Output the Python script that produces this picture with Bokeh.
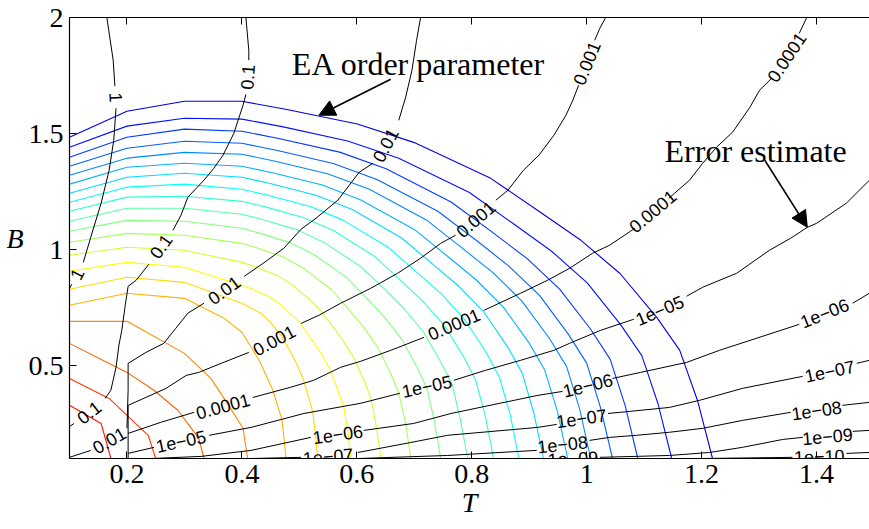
from bokeh.plotting import figure
from bokeh.models import LinearAxis, FixedTicker, Arrow, NormalHead, Range1d, ColumnDataSource
from bokeh.core.properties import value
from bokeh.embed import file_html
from bokeh.resources import INLINE

# ---------------- data ----------------
x_ticks = [0.2, 0.4, 0.6, 0.8, 1.0, 1.2, 1.4]
x_tick_labels = ["0.2", "0.4", "0.6", "0.8", "1", "1.2", "1.4"]
y_ticks = [0.5, 1.0, 1.5, 2.0]
y_tick_labels = ["0.5", "1", "1.5", "2"]

# EA order parameter contours (inner -> outer), T and B coordinates
ea_T = [
    [0.1, 0.155, 0.172],
    [0.1, 0.169, 0.2, 0.237, 0.25],
    [0.1, 0.2, 0.247, 0.289, 0.325, 0.334],
    [0.1, 0.2, 0.3, 0.346, 0.377, 0.402, 0.410],
    [0.1, 0.2, 0.3, 0.369, 0.4, 0.430, 0.454, 0.470, 0.477],
    [0.1, 0.2, 0.3, 0.4, 0.412, 0.433, 0.448, 0.470, 0.484, 0.495, 0.506, 0.516, 0.523, 0.528, 0.532],
    [0.1, 0.2, 0.3, 0.4, 0.418, 0.447, 0.469, 0.501, 0.521, 0.537, 0.553, 0.567, 0.577, 0.584, 0.590],
    [0.1, 0.2, 0.3, 0.4, 0.423, 0.460, 0.488, 0.528, 0.554, 0.574, 0.594, 0.613, 0.625, 0.634, 0.642],
    [0.1, 0.2, 0.3, 0.4, 0.427, 0.472, 0.507, 0.556, 0.587, 0.612, 0.636, 0.659, 0.673, 0.685, 0.694],
    [0.1, 0.2, 0.3, 0.4, 0.432, 0.485, 0.526, 0.583, 0.620, 0.649, 0.678, 0.705, 0.722, 0.735, 0.746],
    [0.1, 0.2, 0.3, 0.4, 0.437, 0.497, 0.543, 0.608, 0.650, 0.683, 0.716, 0.746, 0.766, 0.780, 0.793],
    [0.1, 0.2, 0.3, 0.4, 0.441, 0.508, 0.560, 0.632, 0.678, 0.715, 0.752, 0.786, 0.807, 0.824, 0.838],
    [0.1, 0.2, 0.3, 0.4, 0.445, 0.519, 0.576, 0.655, 0.706, 0.747, 0.787, 0.825, 0.848, 0.867, 0.882],
    [0.1, 0.2, 0.3, 0.4, 0.449, 0.529, 0.592, 0.678, 0.733, 0.778, 0.822, 0.863, 0.888, 0.908, 0.925],
    [0.1, 0.2, 0.3, 0.4, 0.453, 0.540, 0.607, 0.700, 0.760, 0.808, 0.855, 0.900, 0.927, 0.949, 0.967],
    [0.1, 0.2, 0.3, 0.4, 0.456, 0.549, 0.622, 0.721, 0.785, 0.837, 0.887, 0.935, 0.965, 0.988, 1.007],
    [0.1, 0.2, 0.3, 0.4, 0.460, 0.559, 0.635, 0.741, 0.810, 0.864, 0.918, 0.968, 1.000, 1.024, 1.045],
    [0.1, 0.2, 0.3, 0.4, 0.464, 0.570, 0.651, 0.764, 0.838, 0.896, 0.953, 1.007, 1.041, 1.067, 1.089],
    [0.1, 0.2, 0.3, 0.4, 0.470, 0.584, 0.673, 0.796, 0.875, 0.939, 1.001, 1.059, 1.096, 1.124, 1.148],
    [0.1, 0.2, 0.3, 0.4, 0.476, 0.601, 0.699, 0.833, 0.920, 0.990, 1.058, 1.122, 1.162, 1.193, 1.219],
]
ea_B = [
    [0.329, 0.251, 0.1],
    [0.445, 0.359, 0.286, 0.200, 0.1],
    [0.596, 0.471, 0.394, 0.307, 0.187, 0.1],
    [0.691, 0.691, 0.553, 0.445, 0.329, 0.230, 0.1],
    [0.760, 0.812, 0.790, 0.704, 0.644, 0.523, 0.394, 0.264, 0.1],
    [0.829, 0.881, 0.859, 0.769, 0.754, 0.726, 0.692, 0.624, 0.561, 0.509, 0.447, 0.364, 0.303, 0.208, 0.1],
    [0.907, 0.945, 0.924, 0.846, 0.830, 0.798, 0.760, 0.685, 0.614, 0.556, 0.486, 0.395, 0.326, 0.221, 0.1],
    [0.976, 1.010, 0.997, 0.945, 0.926, 0.891, 0.848, 0.762, 0.682, 0.616, 0.538, 0.434, 0.356, 0.237, 0.1],
    [1.032, 1.070, 1.062, 1.027, 1.007, 0.968, 0.920, 0.827, 0.739, 0.666, 0.580, 0.466, 0.381, 0.250, 0.1],
    [1.079, 1.126, 1.122, 1.092, 1.070, 1.029, 0.978, 0.878, 0.783, 0.706, 0.614, 0.492, 0.401, 0.261, 0.1],
    [1.122, 1.178, 1.178, 1.152, 1.129, 1.085, 1.031, 0.925, 0.825, 0.743, 0.645, 0.516, 0.419, 0.270, 0.1],
    [1.165, 1.226, 1.230, 1.208, 1.184, 1.137, 1.081, 0.969, 0.863, 0.777, 0.674, 0.538, 0.436, 0.279, 0.1],
    [1.204, 1.269, 1.282, 1.260, 1.234, 1.186, 1.127, 1.009, 0.899, 0.809, 0.701, 0.558, 0.451, 0.288, 0.1],
    [1.243, 1.312, 1.329, 1.312, 1.285, 1.234, 1.173, 1.050, 0.935, 0.841, 0.728, 0.579, 0.467, 0.296, 0.1],
    [1.282, 1.355, 1.372, 1.359, 1.331, 1.278, 1.214, 1.087, 0.967, 0.869, 0.752, 0.597, 0.481, 0.304, 0.1],
    [1.320, 1.394, 1.419, 1.411, 1.382, 1.327, 1.260, 1.128, 1.003, 0.901, 0.779, 0.618, 0.497, 0.312, 0.1],
    [1.359, 1.437, 1.467, 1.458, 1.428, 1.371, 1.302, 1.165, 1.036, 0.930, 0.803, 0.636, 0.511, 0.320, 0.1],
    [1.398, 1.484, 1.519, 1.510, 1.479, 1.420, 1.348, 1.205, 1.071, 0.962, 0.830, 0.657, 0.527, 0.328, 0.1],
    [1.441, 1.532, 1.566, 1.562, 1.530, 1.468, 1.394, 1.246, 1.107, 0.993, 0.857, 0.677, 0.543, 0.337, 0.1],
    [1.484, 1.596, 1.639, 1.639, 1.605, 1.541, 1.462, 1.307, 1.160, 1.040, 0.897, 0.708, 0.566, 0.349, 0.1],
]

# Error-estimate contours, split into pieces around their labels
err_T = [
    # 1
    [0.165, 0.176, 0.179], [0.181, 0.177, 0.169, 0.155, 0.137, 0.124], [0.104, 0.1],
    # 0.1
    [0.407, 0.412, 0.412], [0.407, 0.402, 0.386, 0.367, 0.351, 0.334, 0.306, 0.294, 0.280],
    [0.238, 0.216, 0.202, 0.197, 0.191, 0.186, 0.181, 0.172, 0.162], [0.108, 0.1],
    # 0.01
    [0.711, 0.704, 0.696, 0.685, 0.673], [0.628, 0.604, 0.567, 0.529, 0.503, 0.473, 0.437, 0.404],
    [0.334, 0.306, 0.285, 0.264, 0.233, 0.202, 0.202, 0.200], [0.137, 0.1],
    # 0.001
    [1.033, 1.023, 1.014], [0.986, 0.976, 0.964, 0.943, 0.917, 0.890, 0.863, 0.842],
    [0.772, 0.746, 0.711, 0.671, 0.624, 0.572, 0.534, 0.503], [0.412, 0.364, 0.325, 0.303, 0.268, 0.202, 0.202],
    # 0.0001
    [1.383, 1.370], [1.322, 1.301, 1.284, 1.254, 1.226, 1.202, 1.179, 1.153, 1.143],
    [1.084, 1.040, 1.010, 0.970, 0.932, 0.885, 0.821], [0.717, 0.659, 0.607, 0.572, 0.525, 0.485, 0.419],
    [0.317, 0.259, 0.202],
    # 1e-05
    [1.492, 1.452, 1.400, 1.384, 1.355, 1.318, 1.261, 1.202, 1.174], [1.082, 1.024, 0.970, 0.943, 0.885, 0.824, 0.769],
    [0.675, 0.607, 0.508, 0.416, 0.343], [0.247, 0.202],
    # 1e-06
    [1.492, 1.463], [1.370, 1.231, 1.174, 1.094, 1.045], [0.958, 0.915, 0.764, 0.699, 0.612],
    [0.520, 0.416, 0.329, 0.242],
    # 1e-07
    [1.492, 1.470], [1.376, 1.271, 1.197, 1.144, 1.075, 1.037], [0.948, 0.915, 0.758, 0.694, 0.602], [0.503, 0.416],
    # 1e-08
    [1.492, 1.445], [1.355, 1.271, 1.202, 1.144, 1.087, 1.040, 1.005], [0.913, 0.758, 0.602],
    # 1e-09
    [1.492, 1.463], [1.376, 1.341, 1.271, 1.214, 1.144, 1.023],
    # 1e-10
    [1.492, 1.452], [1.358, 1.202],
]
err_B = [
    [2.0, 1.816, 1.704], [1.609, 1.471, 1.342, 1.200, 1.053, 0.945], [0.851, 0.833],
    [2.0, 1.859, 1.816], [1.669, 1.622, 1.501, 1.406, 1.350, 1.299, 1.226, 1.148, 1.083],
    [0.937, 0.868, 0.842, 0.760, 0.652, 0.588, 0.493, 0.394, 0.359], [0.251, 0.238],
    [2.0, 1.902, 1.773, 1.657, 1.557], [1.372, 1.333, 1.213, 1.135, 1.088, 1.006, 0.941, 0.885],
    [0.769, 0.726, 0.661, 0.596, 0.557, 0.510, 0.394, 0.230], [0.135, 0.105],
    [2.0, 1.954, 1.902], [1.708, 1.644, 1.579, 1.493, 1.407, 1.342, 1.256, 1.213],
    [1.062, 1.027, 0.963, 0.898, 0.833, 0.769, 0.717, 0.682], [0.557, 0.510, 0.471, 0.458, 0.402, 0.329, 0.1],
    [2.0, 1.932], [1.738, 1.687, 1.613, 1.506, 1.441, 1.372, 1.299, 1.243, 1.221],
    [1.092, 1.019, 0.984, 0.919, 0.868, 0.812, 0.738], [0.622, 0.566, 0.519, 0.493, 0.437, 0.407, 0.363],
    [0.299, 0.256, 0.208],
    [1.299, 1.200, 1.113, 1.096, 1.049, 0.997, 0.898, 0.838, 0.799], [0.700, 0.652, 0.596, 0.566, 0.523, 0.480, 0.437],
    [0.381, 0.338, 0.294, 0.234, 0.200], [0.148, 0.122],
    [0.812, 0.769], [0.678, 0.566, 0.514, 0.471, 0.445], [0.389, 0.372, 0.294, 0.251, 0.221],
    [0.191, 0.135, 0.109, 0.1],
    [0.523, 0.510], [0.454, 0.402, 0.351, 0.320, 0.303, 0.294], [0.247, 0.234, 0.200, 0.169, 0.126], [0.105, 0.1],
    [0.342, 0.329], [0.299, 0.264, 0.230, 0.213, 0.200, 0.191, 0.178], [0.135, 0.113, 0.1],
    [0.221, 0.217], [0.191, 0.182, 0.148, 0.126, 0.113, 0.105],
    [0.126, 0.122], [0.105, 0.1],
]

# contour labels
lab_text = ["1", "1", "0.1", "0.1", "0.1", "0.01", "0.01", "0.01",
            "0.001", "0.001", "0.001", "0.0001", "0.0001", "0.0001", "0.0001",
            "1e\u221205", "1e\u221205", "1e\u221205", "1e\u221206", "1e\u221206", "1e\u221206",
            "1e\u221207", "1e\u221207", "1e\u221207", "1e\u221208", "1e\u221208",
            "1e\u221209", "1e\u221209", "1e\u221210"]
lab_T = [0.181, 0.113, 0.410, 0.259, 0.134, 0.650, 0.369, 0.169,
         1.000, 0.807, 0.456, 1.348, 1.115, 0.769, 0.367,
         1.127, 0.722, 0.294, 1.414, 1.002, 0.567,
         1.423, 0.991, 0.550, 1.400, 0.958,
         1.419, 0.976, 1.405]
lab_B = [1.656, 0.894, 1.743, 1.014, 0.299, 1.450, 0.825, 0.178,
         1.803, 1.131, 0.609, 1.829, 1.165, 0.678, 0.325,
         0.738, 0.411, 0.174, 0.726, 0.415, 0.204,
         0.476, 0.273, 0.109, 0.307, 0.161,
         0.195, 0.100, 0.109]
lab_angle = [-87, 63, 86, 55, 38, 62, 36, 30,
             68, 41, 28, 56, 40, 23, 15,
             23, 12, 12, 22, 14, 8,
             12, 8, 5, 8, 6,
             5, 3, 2]

# annotations
note_text = ["EA order parameter", "Error estimate"]
note_T = [0.708, 1.294]
note_B = [1.799, 1.424]
arrow_T0 = [0.659, 1.310]
arrow_B0 = [1.734, 1.385]
arrow_T1 = [0.534, 1.384]
arrow_B1 = [1.579, 1.096]

# ---------------- styles ----------------
def jet(v):
    def c(x):
        return int(round(255 * min(max(x, 0.0), 1.0)))
    r = c(1.5 - abs(4 * v - 3))
    g = c(1.5 - abs(4 * v - 2))
    b = c(1.5 - abs(4 * v - 1))
    return "#%02x%02x%02x" % (r, g, b)

n = len(ea_T)
ea_colors = [jet(0.86 - i * (0.76 / (n - 1))) for i in range(n)]

SERIF = "Liberation Serif"
SANS = "Liberation Sans"

p = figure(width=869, height=529, output_backend="svg", toolbar_location=None,
           x_range=Range1d(0.1, 1.4922), y_range=Range1d(0.1, 2.0),
           min_border_left=69, min_border_right=0, min_border_top=17, min_border_bottom=71)
p.outline_line_color = None
p.grid.visible = False
p.background_fill_color = "white"
p.border_fill_color = "white"

def style_axis(ax, ticks, labels, show_labels=True):
    ax.ticker = FixedTicker(ticks=ticks)
    ax.major_label_overrides = {t: l for t, l in zip(ticks, labels)}
    ax.major_tick_in = 7
    ax.major_tick_out = 0
    ax.minor_tick_in = 0
    ax.minor_tick_out = 0
    ax.axis_line_color = "black"
    ax.axis_line_width = 1.2
    ax.major_tick_line_color = "black"
    ax.major_tick_line_width = 1
    ax.major_label_text_font = SERIF
    ax.major_label_text_color = "black"
    ax.major_label_standoff = 6
    ax.major_label_text_font_size = "28px" if show_labels else "0px"

xa = p.xaxis[0]
style_axis(xa, x_ticks, x_tick_labels)
xa.axis_label = "T"
xa.axis_label_text_font = SERIF
xa.axis_label_text_font_style = "italic"
xa.axis_label_text_font_size = "28px"
xa.axis_label_text_color = "black"
xa.axis_label_standoff = 1

ya = p.yaxis[0]
style_axis(ya, y_ticks, y_tick_labels)
ya.axis_label = "B"
ya.axis_label_text_font = SERIF
ya.axis_label_text_font_style = "italic"
ya.axis_label_text_font_size = "28px"
ya.axis_label_text_color = "black"
ya.axis_label_orientation = "horizontal"
ya.axis_label_standoff = 2

top = LinearAxis()
style_axis(top, x_ticks, ["" for _ in x_ticks], show_labels=False)
p.add_layout(top, "above")

# EA order parameter contours
p.multi_line(xs="xs", ys="ys", line_color="color", line_width=1.1,
             source=ColumnDataSource(dict(xs=ea_T, ys=ea_B, color=ea_colors)))

# error estimate contours
p.multi_line(xs=err_T, ys=err_B, line_color="black", line_width=1.0)

# contour labels
p.text(x="x", y="y", text="text", angle="angle", angle_units="deg",
       source=ColumnDataSource(dict(x=lab_T, y=lab_B, text=lab_text, angle=lab_angle)),
       text_font=value(SANS), text_font_size="18px", text_color="black",
       text_align="center", text_baseline="middle")

# annotations
p.text(x=note_T, y=note_B, text=note_text, text_font=value(SERIF), text_font_size="32px",
       text_color="black", text_align="center", text_baseline="middle")
for i in range(len(arrow_T0)):
    p.add_layout(Arrow(end=NormalHead(size=16, fill_color="black", line_color="black"),
                       x_start=arrow_T0[i], y_start=arrow_B0[i],
                       x_end=arrow_T1[i], y_end=arrow_B1[i],
                       line_color="black", line_width=1.6))

open("out.html", "w").write(file_html(p, INLINE))
